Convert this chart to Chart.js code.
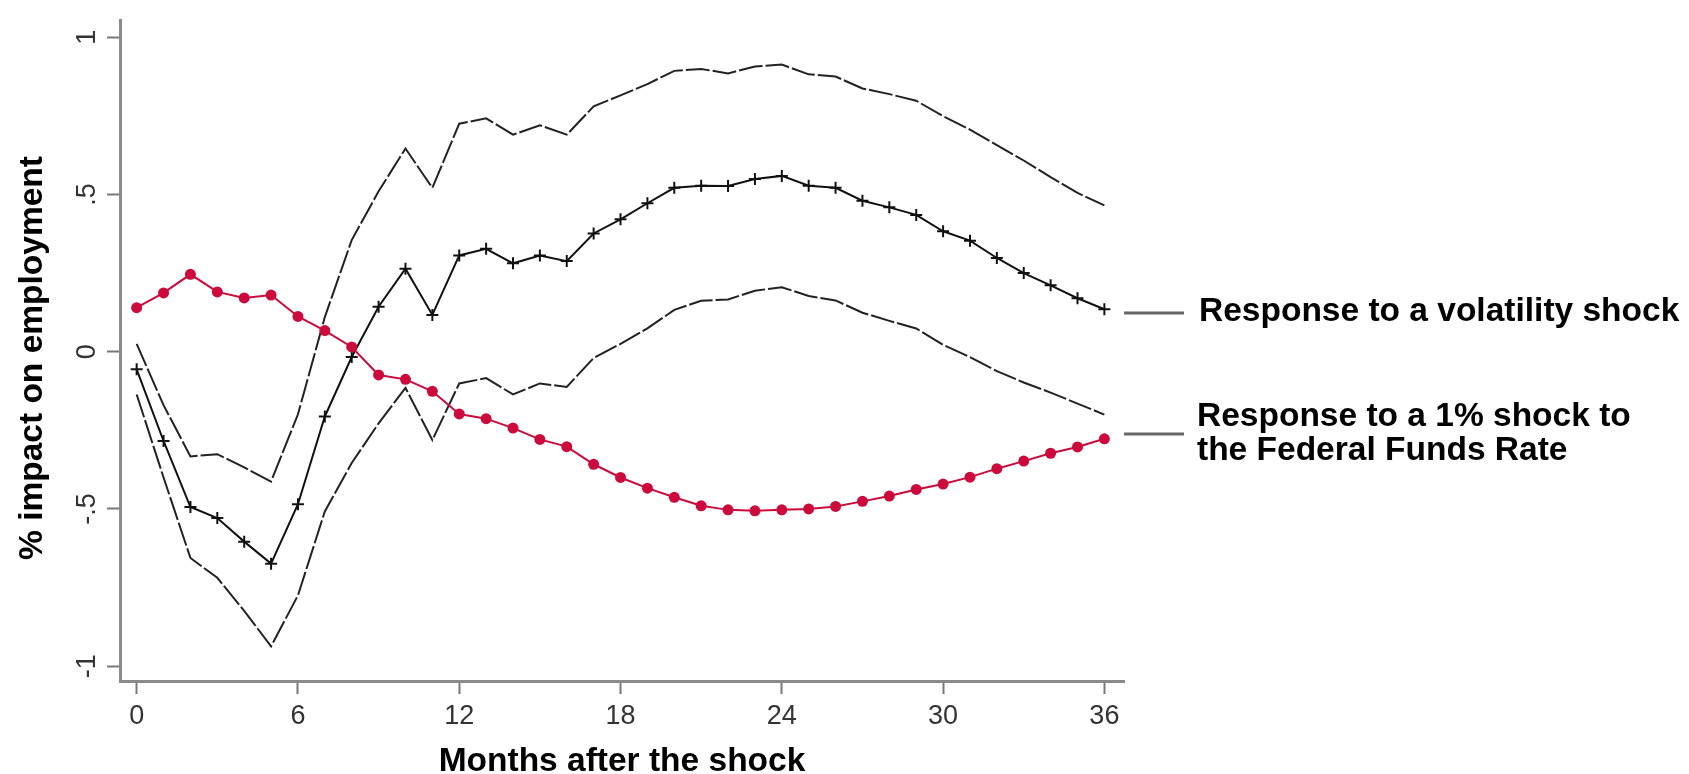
<!DOCTYPE html>
<html><head><meta charset="utf-8">
<script src="https://cdn.jsdelivr.net/npm/chart.js@4"></script>
<style>html,body{margin:0;padding:0;background:#fff;}#wrap{width:1689px;height:774px;}canvas{display:block;}</style>
</head><body><div id="wrap"><canvas id="c" width="1689" height="774"></canvas></div>
<script>
const months = [0,1,2,3,4,5,6,7,8,9,10,11,12,13,14,15,16,17,18,19,20,21,22,23,24,25,26,27,28,29,30,31,32,33,34,35,36];
const fedFundsResponse = [0.140,0.187,0.246,0.190,0.171,0.180,0.112,0.067,0.015,-0.074,-0.088,-0.126,-0.198,-0.213,-0.243,-0.279,-0.302,-0.358,-0.400,-0.434,-0.463,-0.490,-0.503,-0.506,-0.503,-0.500,-0.492,-0.476,-0.459,-0.438,-0.421,-0.399,-0.372,-0.348,-0.323,-0.303,-0.277];
const volatilityResponse = [-0.056,-0.284,-0.494,-0.529,-0.604,-0.674,-0.485,-0.206,-0.017,0.143,0.264,0.117,0.306,0.327,0.281,0.306,0.288,0.376,0.421,0.472,0.521,0.528,0.527,0.549,0.559,0.528,0.521,0.480,0.459,0.435,0.383,0.353,0.298,0.250,0.211,0.170,0.135];
const volatilityUpper = [0.025,-0.170,-0.333,-0.326,-0.368,-0.413,-0.199,0.110,0.355,0.510,0.646,0.521,0.725,0.742,0.690,0.720,0.690,0.780,0.815,0.851,0.893,0.899,0.885,0.907,0.913,0.882,0.875,0.837,0.819,0.798,0.749,0.706,0.657,0.608,0.555,0.505,0.465];
const volatilityLower = [-0.136,-0.400,-0.656,-0.719,-0.824,-0.937,-0.775,-0.508,-0.354,-0.228,-0.115,-0.281,-0.101,-0.084,-0.136,-0.101,-0.112,-0.020,0.025,0.074,0.133,0.162,0.166,0.194,0.205,0.177,0.163,0.124,0.098,0.074,0.022,-0.017,-0.062,-0.098,-0.130,-0.165,-0.200];
const xTickValues = [0,6,12,18,24,30,36];
const yTickValues = [-1,-0.5,0,0.5,1];
const yTickLabels = ['-1','-.5','0','.5','1'];
const legendVolatility = ['Response to a volatility shock'];
const legendFedFunds = ['Response to a 1% shock to','the Federal Funds Rate'];
const xAxisTitle = 'Months after the shock';
const yAxisTitle = '% impact on employment';

const FONT = "'Liberation Sans', Arial, Helvetica, sans-serif";
const toPoints = arr => arr.map((v, i) => ({x: months[i], y: v}));
const RED = '#cc0a3c';

const annotations = {
  id: 'annotations',
  afterDraw(chart) {
    const c = chart.ctx;
    c.save();
    // side legend
    c.strokeStyle = '#666';
    c.lineWidth = 3;
    [313, 434].forEach(y => { c.beginPath(); c.moveTo(1124, y); c.lineTo(1184, y); c.stroke(); });
    c.fillStyle = '#000';
    c.font = "bold 33.5px " + FONT;
    c.textBaseline = 'middle';
    c.textAlign = 'left';
    legendVolatility.forEach((t, i) => c.fillText(t, 1199, 312 + i * 34));
    legendFedFunds.forEach((t, i) => c.fillText(t, 1197, 417 + i * 34));
    // y-axis title
    c.translate(33, 358);
    c.rotate(-Math.PI / 2);
    c.textAlign = 'center';
    c.fillText(yAxisTitle, 0, 0);
    c.restore();
  }
};

const axisGrid = {drawOnChartArea: false, drawTicks: true, tickLength: 13, tickColor: '#777', tickWidth: 2};
const axisBorder = {display: true, color: '#8a8a8a', width: 3};

new Chart(document.getElementById('c'), {
  type: 'line',
  data: {
    datasets: [
      {label: 'fed', data: toPoints(fedFundsResponse), borderColor: RED, backgroundColor: RED, borderWidth: 2,
       pointRadius: 5.5, pointStyle: 'circle', pointBorderWidth: 0, pointBackgroundColor: RED, tension: 0},
      {label: 'vol', data: toPoints(volatilityResponse), borderColor: '#111', borderWidth: 2,
       pointStyle: 'cross', pointRadius: 6, pointBorderWidth: 2, pointBorderColor: '#111', tension: 0},
      {label: 'upper', data: toPoints(volatilityUpper), borderColor: '#222', borderWidth: 2, borderDash: [24, 3], pointRadius: 0, tension: 0},
      {label: 'lower', data: toPoints(volatilityLower), borderColor: '#222', borderWidth: 2, borderDash: [24, 3], pointRadius: 0, tension: 0}
    ]
  },
  options: {
    responsive: false, animation: false, devicePixelRatio: 1,
    layout: {padding: {top: 13, right: 565, bottom: 0, left: 0}},
    plugins: {legend: {display: false}, tooltip: {enabled: false}},
    scales: {
      x: {
        type: 'linear', min: -0.62, max: 36.73,
        afterBuildTicks: s => { s.ticks = xTickValues.map(v => ({value: v})); },
        afterFit: s => { s.height = 93; },
        grid: axisGrid, border: axisBorder,
        ticks: {font: {family: FONT, size: 27}, color: '#333', padding: 6, maxRotation: 0, minRotation: 0, autoSkip: false,
                callback: (v) => String(v)},
        title: {display: true, text: xAxisTitle, color: '#000', padding: 0,
                font: {family: FONT, size: 33.5, weight: 'bold', lineHeight: 0.75}}
      },
      y: {
        type: 'linear', min: -1.0472, max: 1.0541,
        afterBuildTicks: s => { s.ticks = yTickValues.map(v => ({value: v})); },
        afterFit: s => { s.width = 120; },
        grid: axisGrid, border: axisBorder,
        ticks: {font: {family: FONT, size: 27}, color: '#333', padding: 4, minRotation: 90, maxRotation: 90,
                crossAlign: 'center', autoSkip: false,
                callback: (v, i) => yTickLabels[i]},
        title: {display: false}
      }
    }
  },
  plugins: [annotations]
});
</script>
</body></html>
